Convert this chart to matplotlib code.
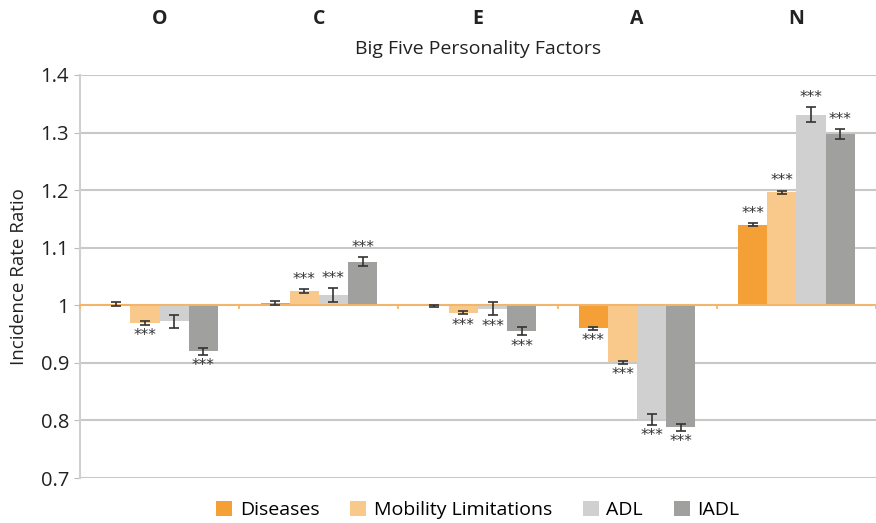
import numpy as np
import matplotlib.pyplot as plt
from matplotlib.patches import Patch

plt.rcParams['font.family'] = ['Open Sans', 'DejaVu Sans']

factors = ["O", "C", "E", "A", "N"]
series = ["Diseases", "Mobility Limitations", "ADL", "IADL"]
colors = ["#F4A036", "#F9C98B", "#D0D0D0", "#A0A09F"]

diseases = [1.002, 1.004, 0.999, 0.960, 1.140]
mobility = [0.969, 1.025, 0.987, 0.901, 1.196]
adl = [0.972, 1.018, 0.994, 0.802, 1.331]
iadl = [0.920, 1.076, 0.955, 0.788, 1.297]

err_diseases = [0.003, 0.003, 0.002, 0.003, 0.003]
err_mobility = [0.003, 0.003, 0.003, 0.003, 0.003]
err_adl = [0.011, 0.012, 0.011, 0.010, 0.013]
err_iadl = [0.006, 0.008, 0.007, 0.006, 0.009]

# significance flags (*** shown)
sig_diseases = [False, False, False, True, True]
sig_mobility = [True, True, True, True, True]
sig_adl = [False, True, True, True, True]
sig_iadl = [True, True, True, True, True]

values = [diseases, mobility, adl, iadl]
errors = [err_diseases, err_mobility, err_adl, err_iadl]
sigs = [sig_diseases, sig_mobility, sig_adl, sig_iadl]

fig = plt.figure(figsize=(8.76, 5.23), dpi=100)
ax = fig.add_axes([80 / 876, 45 / 523, 796 / 876, 403 / 523])

x = np.arange(len(factors))
w = 0.183
for i in range(4):
    pos = x + (i - 1.5) * w
    vals = np.array(values[i])
    ax.bar(pos, vals - 1, bottom=1, width=w, color=colors[i], zorder=3)
    ax.errorbar(pos, vals, yerr=errors[i], fmt="none", ecolor="#333333",
                elinewidth=1.2, capsize=3.5, capthick=1.2, zorder=4)
    for p, v, e, s in zip(pos, vals, errors[i], sigs[i]):
        if not s:
            continue
        if v >= 1:
            ax.text(p, v + e + 0.004, "***", ha="center", va="bottom",
                    fontsize=11, color="#333333", zorder=5, family="DejaVu Sans")
        else:
            ax.text(p, v - e - 0.006, "***", ha="center", va="top",
                    fontsize=11, color="#333333", zorder=5, family="DejaVu Sans")

ax.set_ylim(0.7, 1.4)
ax.set_xlim(-0.5, 4.5)
ax.set_yticks(np.arange(0.7, 1.41, 0.1))
ax.set_yticklabels(["0.7", "0.8", "0.9", "1", "1.1", "1.2", "1.3", "1.4"], fontsize=14.5, color="#222222")
ax.yaxis.grid(True, color="#C8C8C8", linewidth=1.5, zorder=0)
ax.tick_params(axis="y", length=4, color="#BBBBBB", pad=4)

# category axis crossing at 1
ax.axhline(1, color="#F7B463", linewidth=1.3, zorder=3.5)
for b in np.arange(-0.5, 4.6, 1):
    ax.plot([b, b], [1, 0.995], color="#F7B463", linewidth=1.3, zorder=3.5, clip_on=False)

ax.set_xticks([])
for sp in ["top", "right", "bottom"]:
    ax.spines[sp].set_visible(False)
ax.spines["left"].set_color("#D0D0D0")
ax.spines["left"].set_linewidth(1.5)

for xi, f in zip(x, factors):
    ax.text(xi, 1.497, f, ha="center", va="center", fontsize=14,
            fontweight="bold", color="#222222")
ax.text(2, 1.445, "Big Five Personality Factors", ha="center", va="center",
        fontsize=14, color="#222222")
ax.set_ylabel("Incidence Rate Ratio", fontsize=13.5, color="#222222", labelpad=9)

handles = [Patch(facecolor=c, edgecolor="none") for c in colors]
fig.legend(handles, series, loc="center", bbox_to_anchor=(478 / 876, 1 - 510 / 523),
           ncol=4, frameon=False, fontsize=14, handlelength=0.8, handleheight=0.8,
           columnspacing=1.6, handletextpad=0.4)

fig.savefig("out.png", dpi=100)
